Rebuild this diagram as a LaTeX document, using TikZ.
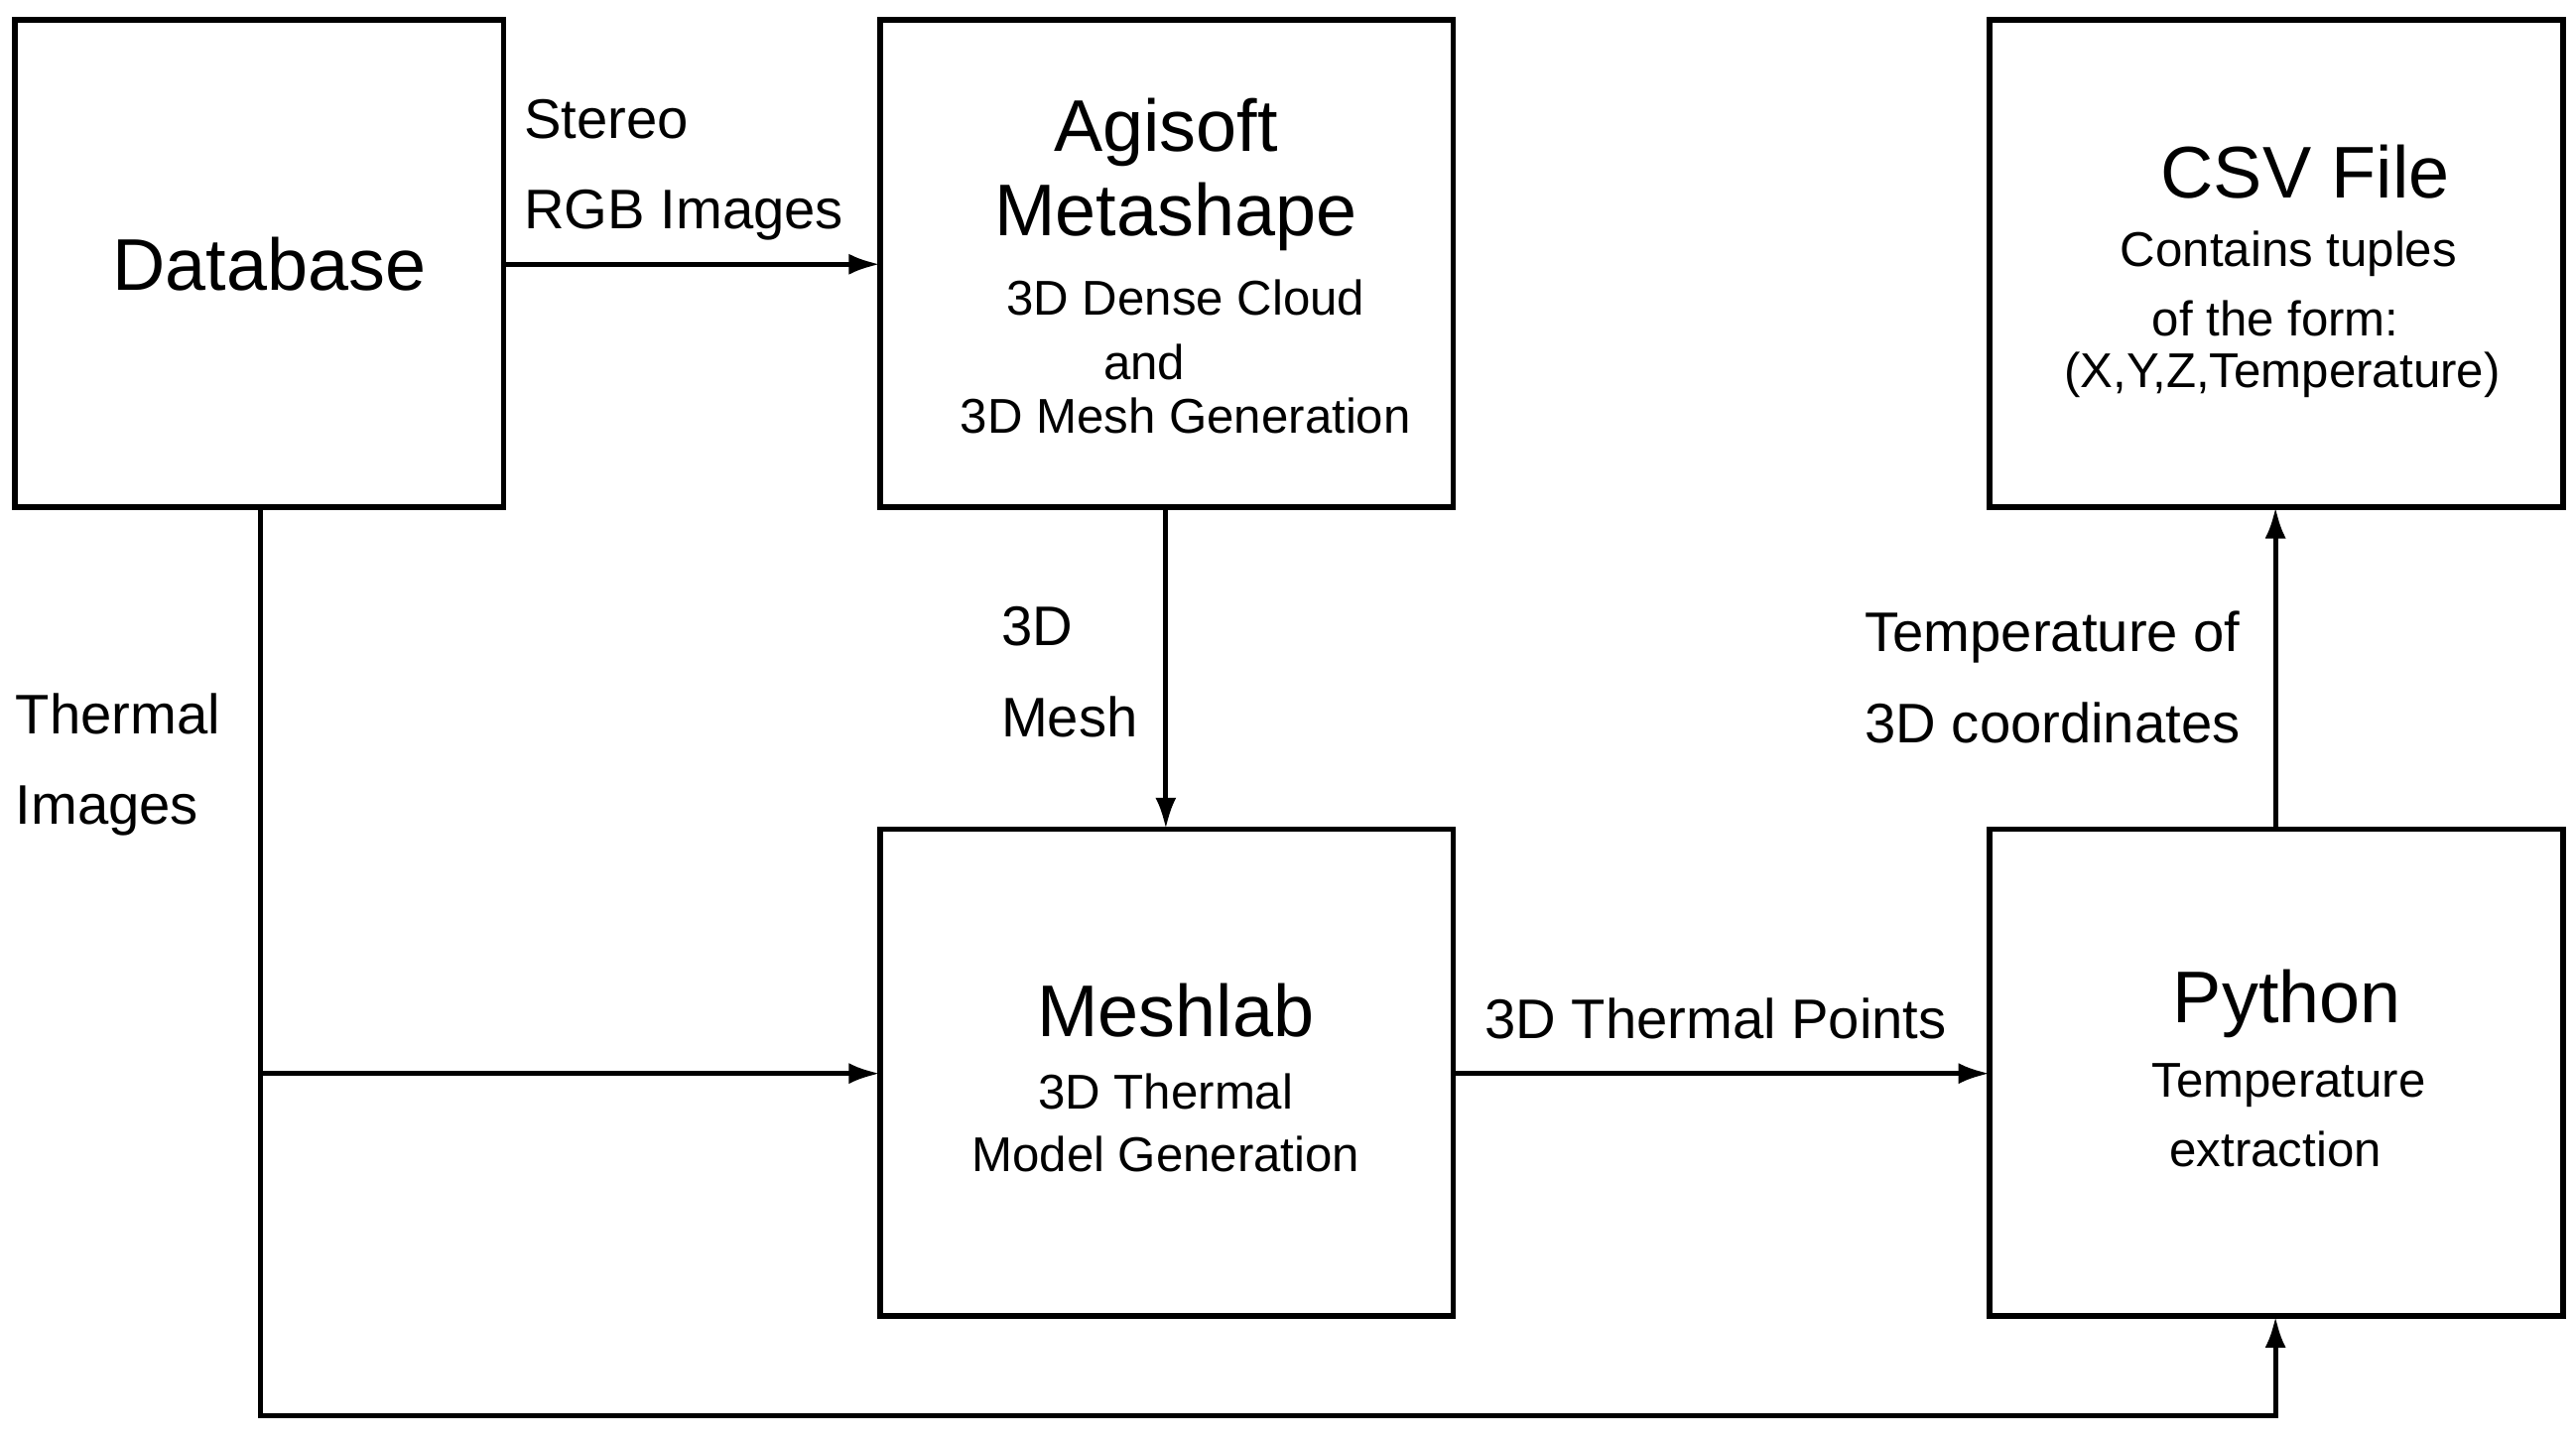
\documentclass[tikz,border=0pt]{standalone}
\usepackage{fontspec}
\setmainfont{Liberation Sans}
\usetikzlibrary{arrows.meta}
\begin{document}
\begin{tikzpicture}[x=0.01664cm,y=-0.01664cm,
 box/.style={draw,line width=1.6pt},
 arr/.style={line width=1.4pt,-{Latex[length=9pt,width=6pt]}},
 big/.style={font=\fontsize{21}{25}\selectfont,inner sep=0pt},
 lab/.style={font=\fontsize{16}{26}\selectfont,inner sep=0pt,align=left},
 sm/.style={font=\fontsize{14}{17}\selectfont,inner sep=0pt}]
\useasboundingbox (0,0) rectangle (1560,872.6);
\draw[box] (9,12) rectangle (305,307) coordinate (dbbr);
\coordinate (db) at (157,160);
\node[box,minimum width=0,draw=none] (dbn) at (157,160) {};
\draw[box] (533,12) rectangle (880,307);
\draw[box] (1205,12) rectangle (1552,307);
\draw[box] (533,502) rectangle (880,797);
\draw[box] (1205,502) rectangle (1552,797);
\coordinate (dbR) at (305,160); \coordinate (agL) at (533,160);
\coordinate (agB) at (706,307); \coordinate (mlT) at (706,502);
\coordinate (dbB) at (158,307); \coordinate (br) at (158,650);
\coordinate (mlL) at (533,650); \coordinate (mlR) at (880,650);
\coordinate (pyL) at (1205,650); \coordinate (pyB) at (1378,797);
\coordinate (pyT) at (1378,502); \coordinate (csB) at (1378,307);
\node[big] at (163,160) {Database};
\node[big] at (706,80) {Agisoft};
\node[big] at (712,131) {Metashape};
\node[sm] at (718,180) {3D Dense Cloud};
\node[sm] at (693,219) {and};
\node[sm] at (718,252) {3D Mesh Generation};
\node[big] at (1396,104) {CSV File};
\node[sm] at (1386,154) {Contains tuples};
\node[sm] at (1378,193) {of the form:};
\node[sm] at (1382,227) {(X,Y,Z,Temperature)};
\node[big] at (712,612) {Meshlab};
\node[sm] at (706,661) {3D Thermal};
\node[sm] at (706,699) {Model Generation};
\node[big] at (1385,608) {Python};
\node[sm] at (1386,657) {Temperature};
\node[sm] at (1378,696) {extraction};
\draw[arr] (dbR) -- (agL);
\node[lab,anchor=west] at (317,103) {Stereo\\RGB Images};
\draw[arr] (agB) -- (mlT);
\node[lab,anchor=west] at (606,407) {3D\\Mesh};
\draw[line width=1.4pt] (dbB) -- (br);
\draw[arr] (br) -- (mlL);
\draw[arr] (br) -- (158,857) -- (1378,857) -- (pyB);
\node[lab,anchor=west] at (9,463) {Thermal\\Images};
\draw[arr] (mlR) -- (pyL);
\node[lab] at (1039,617) {3D Thermal Points};
\draw[arr] (pyT) -- (csB);
\node[lab,anchor=west] at (1129,410) {Temperature of\\3D coordinates};
\end{tikzpicture}
\end{document}
